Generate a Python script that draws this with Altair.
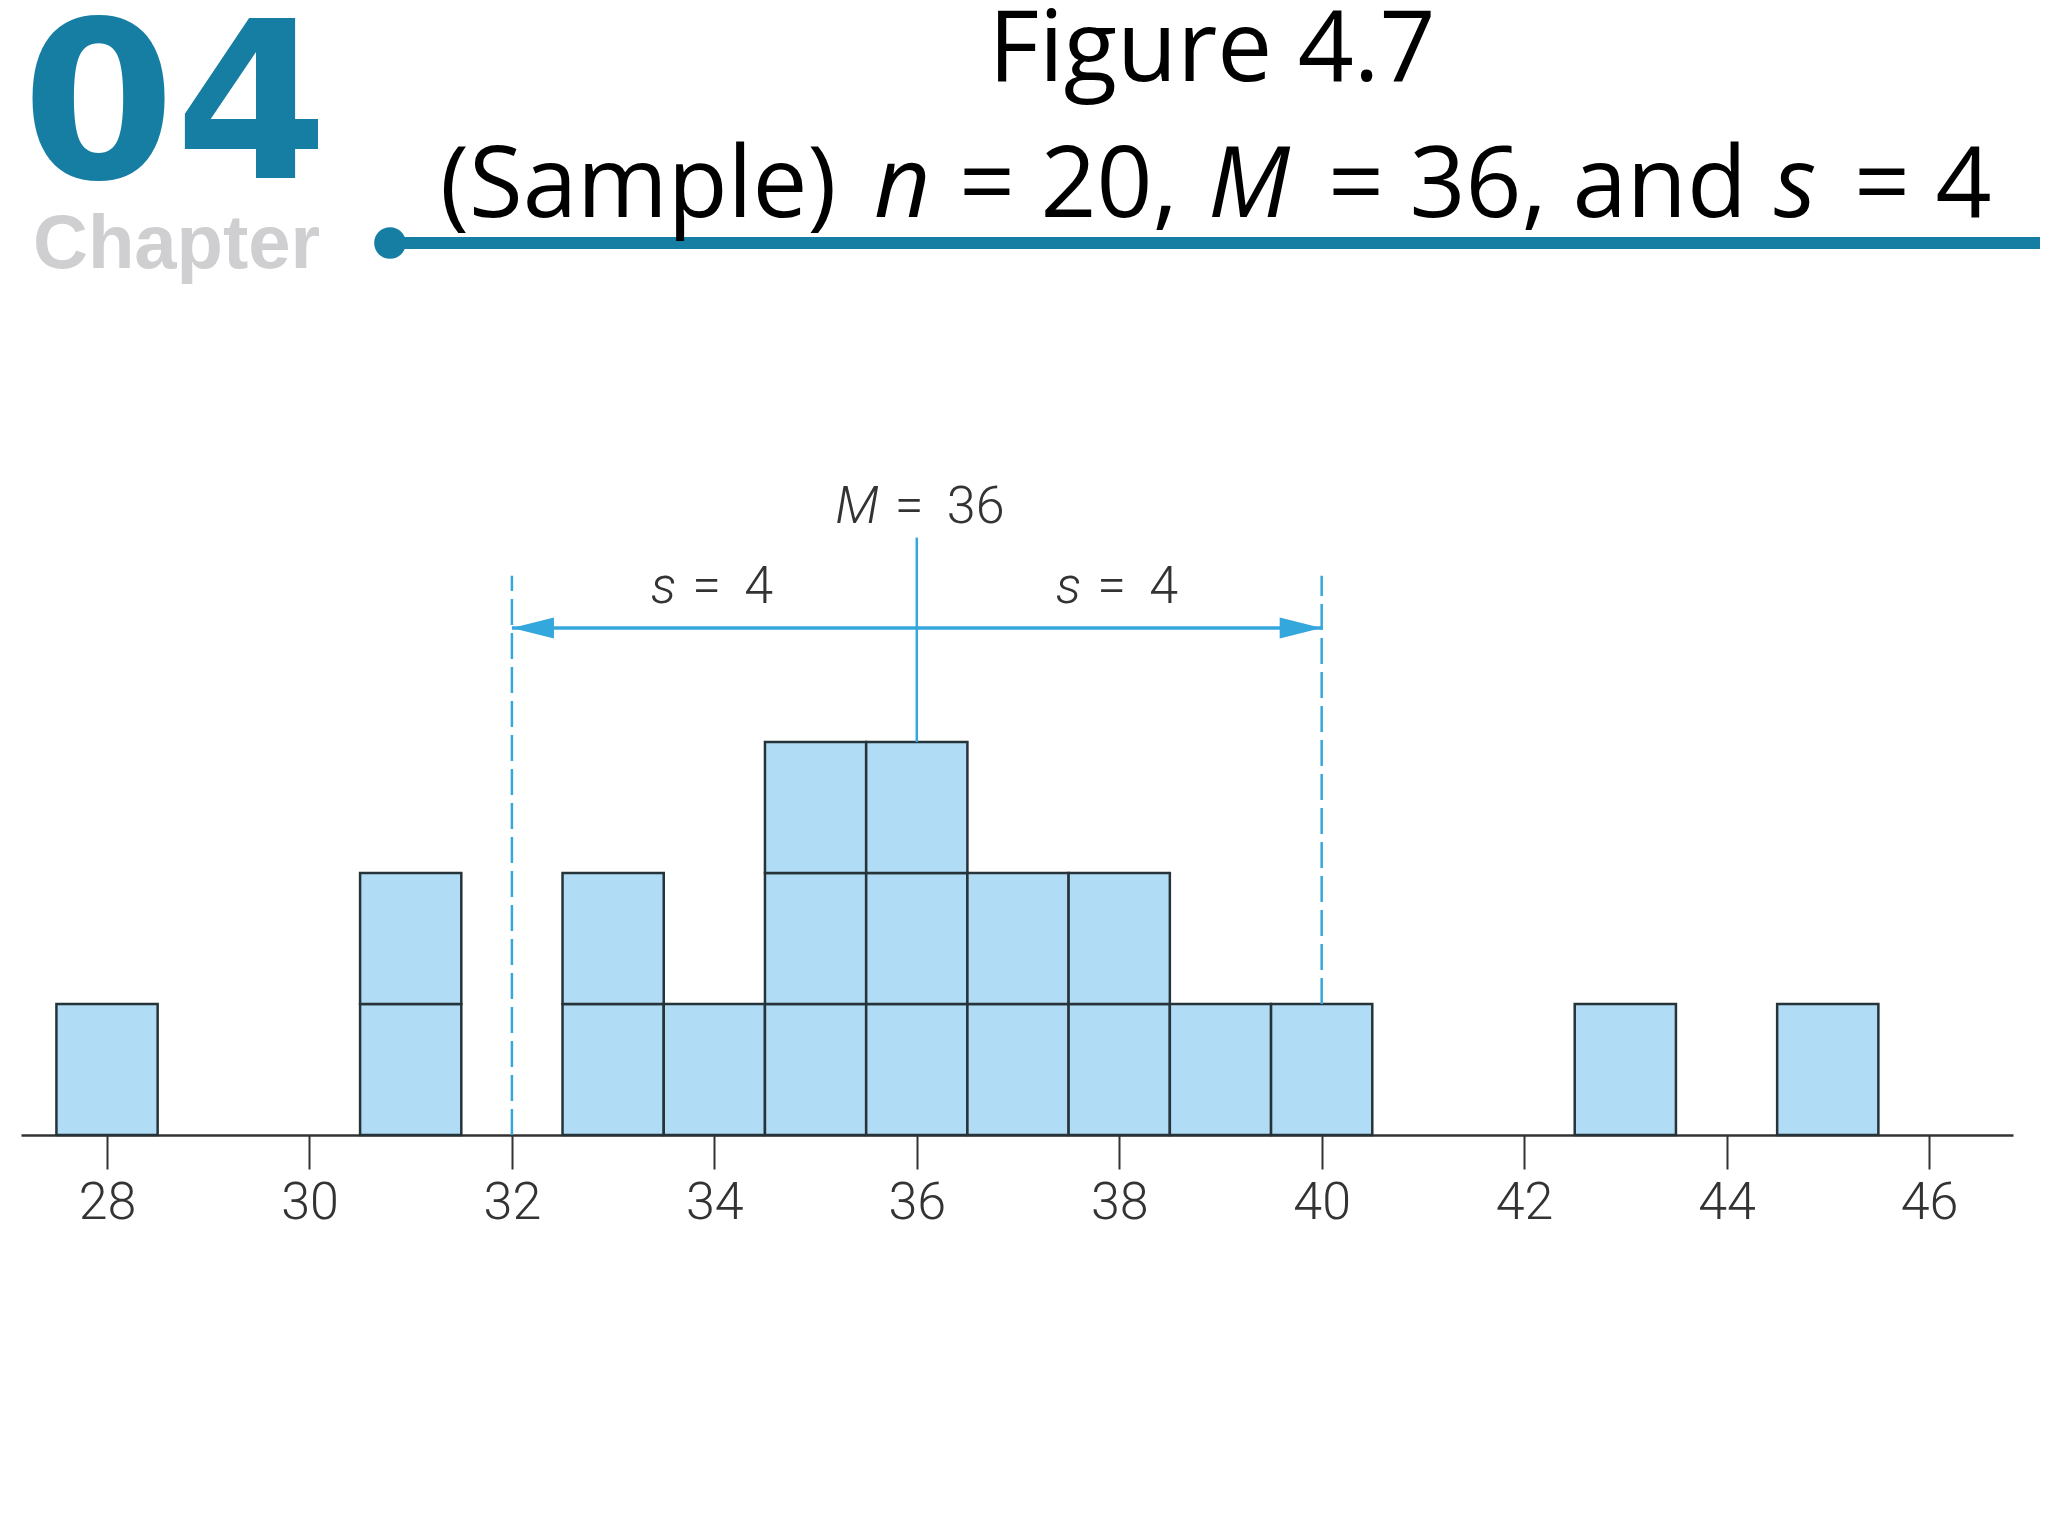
import altair as alt
import numpy as np
import pandas as pd

# ---- data ----
scores = [28, 31, 33, 34, 35, 36, 37, 38, 39, 40, 43, 45]
freqs = [1, 2, 2, 1, 3, 3, 2, 2, 1, 1, 1, 1]
tick_values = [28, 30, 32, 34, 36, 38, 40, 42, 44, 46]
x_domain = [27.15, 46.83]
y_domain = [0, 5]

# annotation heights (in block units)
mean_line_top = 4.56
dash_top = 4.27
arrow_y = 3.87
s_label_y = 4.06
m_label_y = 4.67

raw = np.repeat(scores, freqs)
n = int(len(raw))
M = float(raw.mean())
s = float(raw.std(ddof=1))
f_at = dict(zip(scores, freqs))

blocks = pd.DataFrame(
    [{"score": v, "lo": k - 1, "hi": k, "x0": v - 0.5, "x1": v + 0.5}
     for v, f in zip(scores, freqs) for k in range(1, f + 1)]
)

CYAN = "#34a7dd"
FILL = "#b1dcf5"
EDGE = "#26343a"
TXT = "#333333"
TEAL = "#167ea3"
LFONT = "Roboto"

xs = alt.Scale(domain=x_domain, nice=False, zero=False)
ys = alt.Scale(domain=y_domain, nice=False, zero=False)

axis = alt.Axis(values=tick_values, title=None, grid=False, domain=True,
                domainColor=TXT, domainWidth=2.5, tickColor=TXT, tickWidth=2,
                tickSize=34, labelFont=LFONT, labelFontSize=52, labelFontWeight=300,
                labelColor=TXT, labelPadding=8, labelFlush=False, format="d")


def X(field):
    return alt.X(field, scale=xs, axis=axis)


def Y(field):
    return alt.Y(field, scale=ys, axis=None)


bars = alt.Chart(blocks).mark_rect(fill=FILL, stroke=EDGE, strokeWidth=2.5).encode(
    x=X("x0:Q"), x2="x1", y=Y("lo:Q"), y2="hi",
)

mean_df = pd.DataFrame({"x": [M], "y": [f_at.get(int(M), 0)], "y2": [mean_line_top]})
mean_line = alt.Chart(mean_df).mark_rule(color=CYAN, strokeWidth=2.5).encode(
    x=X("x:Q"), y=Y("y:Q"), y2="y2")

dash_df = pd.DataFrame({"x": [M - s, M + s],
                        "y": [f_at.get(int(round(M - s)), 0), f_at.get(int(round(M + s)), 0)],
                        "y2": [dash_top, dash_top]})
dash_lines = alt.Chart(dash_df).mark_rule(color=CYAN, strokeWidth=2.5, strokeDash=[26, 8]).encode(
    x=X("x:Q"), y=Y("y:Q"), y2="y2")

arrow_df = pd.DataFrame({"x": [M - s], "x2": [M + s], "y": [arrow_y]})
arrow = alt.Chart(arrow_df).mark_rule(color=CYAN, strokeWidth=3.5).encode(
    x=X("x:Q"), x2="x2", y=Y("y:Q"))

head_l_df = pd.DataFrame({"x": [M - s], "y": [arrow_y]})
head_r_df = pd.DataFrame({"x": [M + s], "y": [arrow_y]})
head_l = alt.Chart(head_l_df).mark_point(shape="M0,0L2,-0.5L2,0.5Z", filled=True, size=1764,
                                         color=CYAN, opacity=1, strokeWidth=0).encode(
    x=X("x:Q"), y=Y("y:Q"))
head_r = alt.Chart(head_r_df).mark_point(shape="M0,0L-2,-0.5L-2,0.5Z", filled=True, size=1764,
                                         color=CYAN, opacity=1, strokeWidth=0).encode(
    x=X("x:Q"), y=Y("y:Q"))

# labels: italic symbol, "=" and the number placed around the anchor
m_df = pd.DataFrame({"x": [M], "y": [m_label_y], "num": [f"{M:.0f}"]})
s_df = pd.DataFrame({"x": [M - s / 2, M + s / 2], "y": [s_label_y, s_label_y],
                     "num": [f"{s:.0f}", f"{s:.0f}"]})


def var_label(df, sym):
    base = alt.Chart(df)
    common = dict(font=LFONT, fontSize=52, fontWeight=300, color=TXT, baseline="alphabetic")
    a = base.mark_text(text=sym, fontStyle="italic", align="right", dx=-38, **common).encode(
        x=X("x:Q"), y=Y("y:Q"))
    b = base.mark_text(text="=", align="left", dx=-22, **common).encode(x=X("x:Q"), y=Y("y:Q"))
    c = base.mark_text(align="left", dx=30, **common).encode(
        x=X("x:Q"), y=Y("y:Q"), text="num:N")
    return a + b + c


m_label = var_label(m_df, "M")
s_label = var_label(s_df, "s")

# ---- header (slide title, pixel layout relative to plot origin) ----
one = pd.DataFrame({"k": [0]})


def htext(txt, x, y, size, font, color="#000000", weight="normal", style="normal", align="left"):
    return alt.Chart(one).mark_text(text=txt, font=font, fontSize=size, fontWeight=weight,
                                    fontStyle=style, color=color, align=align,
                                    baseline="alphabetic").encode(x=alt.value(x), y=alt.value(y))


TF = "Open Sans"
TS = 98
BL2 = -263
header = [
    htext("04", 1, -302, 220, "DejaVu Sans", TEAL, "bold"),
    htext("Chapter", 12, -212, 76, "Liberation Sans", "#cfcfd1", "bold"),
    htext("Figure 4.7", 1191, -399, TS, TF, align="center"),
    htext("(Sample)", 419, BL2, TS, TF),
    htext("n", 853, BL2, TS, TF, style="italic"),
    htext(f"= {n},", 938, BL2, TS, TF),
    htext("M", 1187, BL2, TS, TF, style="italic"),
    htext(f"= {M:.0f}, and", 1307, BL2, TS, TF),
    htext("s", 1753, BL2, TS, TF, style="italic"),
    htext(f"= {s:.0f}", 1833, BL2, TS, TF),
]

title_line = alt.Chart(one).mark_rule(color=TEAL, strokeWidth=12).encode(
    x=alt.value(369), x2=alt.value(2019), y=alt.value(-237))
title_dot = alt.Chart(one).mark_point(shape="circle", filled=True, size=1000, color=TEAL,
                                      opacity=1).encode(x=alt.value(369), y=alt.value(-237))

chart = alt.layer(
    bars, mean_line, dash_lines, arrow, head_l, head_r, m_label, s_label,
    title_line, title_dot, *header
).properties(
    width=1992, height=655,
    autosize=alt.AutoSizeParams(type="none"),
    padding={"left": 13, "top": 472, "right": 27, "bottom": 393},
    background="white",
).configure_view(strokeWidth=0)

chart.save("out.html", embed_options={"renderer": "svg", "actions": False})
